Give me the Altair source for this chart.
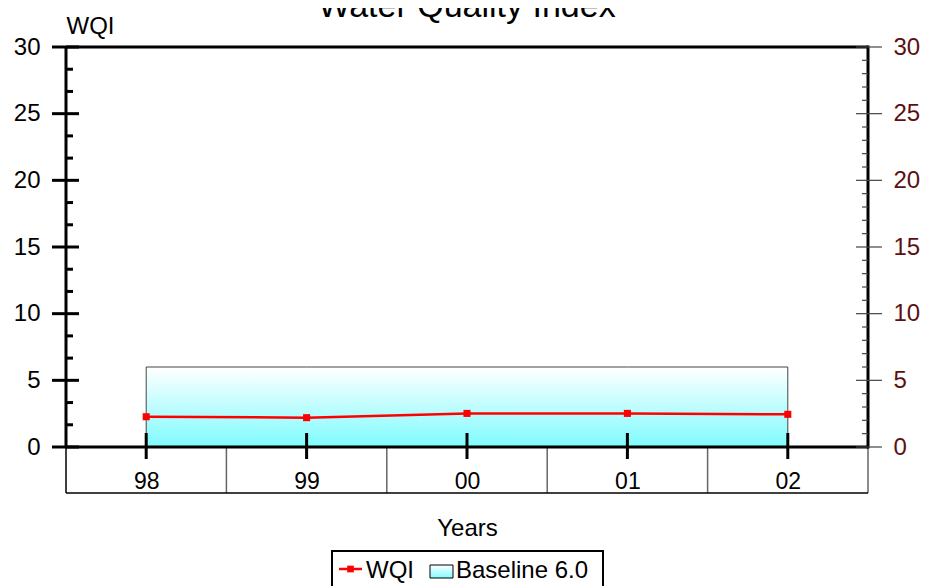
import altair as alt
import pandas as pd

years = ["98", "99", "00", "01", "02"]
wqi = [2.27, 2.2, 2.52, 2.52, 2.45]
baseline = [6.0, 6.0, 6.0, 6.0, 6.0]
major_ticks = [0, 5, 10, 15, 20, 25, 30]
left_minor = [k * 5 / 3 for k in range(19) if k % 3 != 0]
right_minor = [k for k in range(31) if k % 5 != 0]

FONT = "Liberation Sans"
W, H = 802, 400
HALF = W / len(years) / 2
RED = "#ff0000"
RLAB = "#5c1010"

df = pd.DataFrame({"year": years, "wqi": wqi, "base": baseline})
df_major = pd.DataFrame({"v": major_ticks})
df_lminor = pd.DataFrame({"v": left_minor})
df_rminor = pd.DataFrame({"v": right_minor})
df_sep = pd.DataFrame({"year": years[1:]})

xscale = alt.Scale(type="point", padding=0.5, domain=years)
yscale = alt.Scale(domain=[0, 30], nice=False, zero=True)

x_axis = alt.Axis(
    domain=False, ticks=False, tickSize=0, grid=False,
    labelFont=FONT, labelFontSize=23, labelColor="black",
    labelBaseline="alphabetic", labelPadding=41, labelAngle=0,
    title="Years", titleFont=FONT, titleFontSize=24, titleFontWeight="normal",
    titleColor="black", titleY=88, titleBaseline="alphabetic",
)
left_axis = alt.Axis(
    values=major_ticks, domain=False, ticks=False, tickSize=0, grid=False,
    labelFont=FONT, labelFontSize=24, labelColor="black", labelPadding=26,
    title="WQI", titleFont=FONT, titleFontSize=24, titleFontWeight="normal",
    titleColor="black", titleAngle=0, titleX=0, titleY=-14,
    titleAlign="left", titleBaseline="alphabetic",
)
right_axis = alt.Axis(
    orient="right", values=major_ticks, domain=False, ticks=False, tickSize=0,
    grid=False, labelFont=FONT, labelFontSize=24, labelColor=RLAB,
    labelPadding=25, title=None,
)

X = alt.X("year:N", sort=years, scale=xscale, axis=x_axis)

grad = alt.LinearGradient(
    gradient="linear",
    stops=[alt.GradientStop(color="#ffffff", offset=0),
           alt.GradientStop(color="#7ffbff", offset=1)],
    x1=0, x2=0, y1=0, y2=1,
)

area = alt.Chart(df).mark_area(
    fill=grad, stroke="#444444", strokeWidth=1
).encode(
    x=X,
    y=alt.Y("base:Q", scale=yscale, axis=left_axis),
)

# category table below the axis
seps = alt.Chart(df_sep).mark_rule(stroke="#666666", strokeWidth=1.5, xOffset=-HALF).encode(
    x=alt.X("year:N", sort=years, scale=xscale, axis=x_axis),
    y=alt.value(H), y2=alt.value(H + 46),
)
one = pd.DataFrame({"a": [0]})
table_left = alt.Chart(one).mark_rule(stroke="black", strokeWidth=1.5).encode(
    x=alt.value(0), y=alt.value(H), y2=alt.value(H + 46))
table_right = alt.Chart(one).mark_rule(stroke="#666666", strokeWidth=1.5).encode(
    x=alt.value(W), y=alt.value(H), y2=alt.value(H + 46))
table_bottom = alt.Chart(one).mark_rule(stroke="black", strokeWidth=1.5).encode(
    x=alt.value(0), x2=alt.value(W), y=alt.value(H + 46))

# axis lines
left_line = alt.Chart(one).mark_rule(stroke="black", strokeWidth=3).encode(
    x=alt.value(0), y=alt.value(0), y2=alt.value(H))
right_line = alt.Chart(one).mark_rule(stroke="black", strokeWidth=3).encode(
    x=alt.value(W), y=alt.value(-1.5), y2=alt.value(H + 1.5))
top_line = alt.Chart(one).mark_rule(stroke="black", strokeWidth=3).encode(
    x=alt.value(0), x2=alt.value(W), y=alt.value(0))
bottom_line = alt.Chart(one).mark_rule(stroke="black", strokeWidth=3).encode(
    x=alt.value(0), x2=alt.value(W), y=alt.value(H))

# left ticks
left_major = alt.Chart(df_major).mark_rule(stroke="black", strokeWidth=3).encode(
    x=alt.value(-14), x2=alt.value(13),
    y=alt.Y("v:Q", scale=yscale, axis=left_axis))
left_min = alt.Chart(df_lminor).mark_rule(stroke="black", strokeWidth=3).encode(
    x=alt.value(0), x2=alt.value(7),
    y=alt.Y("v:Q", scale=yscale, axis=left_axis))

# category ticks
cat_ticks = alt.Chart(df).mark_rule(stroke="black", strokeWidth=3).encode(
    x=X, y=alt.value(386), y2=alt.value(412))

line = alt.Chart(df).mark_line(
    color=RED, strokeWidth=2.5,
    point=alt.OverlayMarkDef(shape="square", size=50, filled=True, color=RED),
).encode(
    x=X,
    y=alt.Y("wqi:Q", scale=yscale, axis=left_axis),
)

# right axis ticks (with their own axis on the right)
right_major = alt.Chart(df_major).mark_rule(stroke="#444444", strokeWidth=1.2).encode(
    x=alt.value(W - 12), x2=alt.value(W + 14),
    y=alt.Y("v:Q", scale=yscale, axis=right_axis))
right_min = alt.Chart(df_rminor).mark_rule(stroke="#444444", strokeWidth=1.2).encode(
    x=alt.value(W - 6), x2=alt.value(W),
    y=alt.Y("v:Q", scale=yscale, axis=right_axis))

# title
title = alt.Chart(pd.DataFrame({"t": ["Water Quality Index"]})).mark_text(
    font=FONT, fontSize=34, color="black", align="center", baseline="alphabetic"
).encode(text="t:N", x=alt.value(W / 2), y=alt.value(-30))

# legend
leg_box = alt.Chart(one).mark_rect(fill="white", stroke="black", strokeWidth=2).encode(
    x=alt.value(266), x2=alt.value(537), y=alt.value(504), y2=alt.value(560))
leg_line = alt.Chart(one).mark_rule(stroke=RED, strokeWidth=2.5).encode(
    x=alt.value(273), x2=alt.value(296), y=alt.value(522))
leg_pt = alt.Chart(one).mark_point(shape="square", size=45, filled=True, color=RED, opacity=1).encode(
    x=alt.value(284.5), y=alt.value(522))
leg_swatch = alt.Chart(one).mark_rect(fill=grad, stroke="black", strokeWidth=1).encode(
    x=alt.value(364), x2=alt.value(387), y=alt.value(518), y2=alt.value(531))
leg_text = alt.Chart(pd.DataFrame({"t": ["WQI", "Baseline 6.0"], "px": [300, 390]})).mark_text(
    font=FONT, fontSize=24, color="black", align="left", baseline="alphabetic"
).encode(text="t:N", x=alt.X("px:Q", scale=None), y=alt.value(531))

main = alt.layer(
    area, seps, table_left, table_right, table_bottom,
    left_line, right_line, top_line, bottom_line,
    left_major, left_min, cat_ticks, line,
    title, leg_box, leg_line, leg_pt, leg_swatch, leg_text,
)
right = alt.layer(right_major, right_min)

chart = alt.layer(main, right).resolve_scale(y="independent").properties(
    width=W, height=H,
    autosize=alt.AutoSizeParams(type="none"),
    padding={"left": 58, "top": 39, "right": 56, "bottom": 139},
    background="white",
).configure_view(stroke=None)

chart.save("out.html", embed_options={"renderer": "svg", "actions": False})
